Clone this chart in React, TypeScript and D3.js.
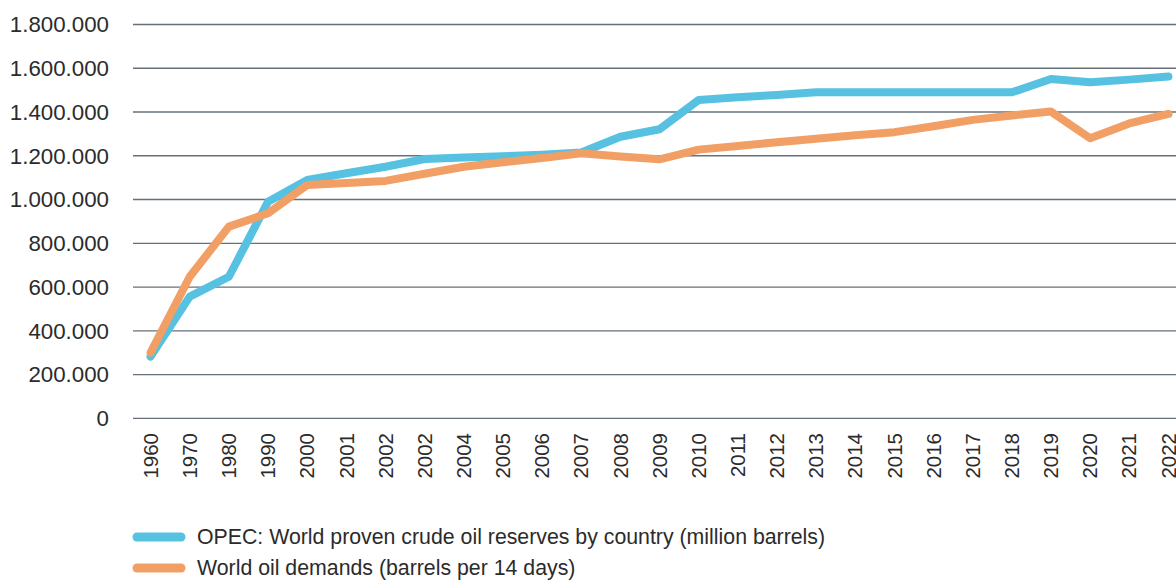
import React from 'react';
import * as d3 from 'd3';

// x categories (the source repeats "2002" on purpose)
const years = ['1960', '1970', '1980', '1990', '2000', '2001', '2002', '2002', '2004', '2005', '2006', '2007', '2008', '2009', '2010', '2011', '2012', '2013', '2014', '2015', '2016', '2017', '2018', '2019', '2020', '2021', '2022'];

// OPEC: World proven crude oil reserves by country (million barrels)
const opecReserves = [282000, 556000, 647000, 990000, 1089000, 1120000, 1150000, 1185000, 1192000, 1198000, 1205000, 1215000, 1287000, 1321000, 1455000, 1467000, 1478000, 1490000, 1490000, 1490000, 1490000, 1490000, 1490000, 1551000, 1536000, 1548000, 1562000];

// World oil demands (barrels per 14 days)
const oilDemands = [300000, 647000, 876000, 937000, 1066000, 1075000, 1085000, 1118000, 1150000, 1170000, 1190000, 1211000, 1197000, 1184000, 1228000, 1245000, 1262000, 1278000, 1294000, 1308000, 1335000, 1364000, 1384000, 1402000, 1280000, 1348000, 1391000];

const yTicks = [0, 200000, 400000, 600000, 800000, 1000000, 1200000, 1400000, 1600000, 1800000];

const series = [
  { name: 'OPEC: World proven crude oil reserves by country (million barrels)', values: opecReserves, color: '#56C1E0' },
  { name: 'World oil demands (barrels per 14 days)', values: oilDemands, color: '#F19F64' },
];

const W = 1176;
const H = 581;
const FONT = '"Liberation Sans", Arial, Helvetica, sans-serif';

export default function App() {
  const x = d3.scalePoint<number>()
    .domain(d3.range(years.length))
    .range([131, 1188])
    .padding(0.5);
  const y = d3.scaleLinear().domain([0, 1800000]).range([418.3, 24.5]);
  const fmt = (v: number) => d3.format(',')(v).replace(/,/g, '.');

  const line = d3.line<number>()
    .x((_, i) => x(i) as number)
    .y(d => y(d));

  return (
    <svg width={W} height={H} style={{ position: 'absolute', left: 0, top: 0 }} fontFamily={FONT}>
      {yTicks.map(t => (
        <g key={t}>
          <line x1={133} x2={W} y1={y(t)} y2={y(t)} stroke="#66707b" strokeWidth={1.3} />
          <text x={109} y={y(t)} dy="0.35em" textAnchor="end" fontSize={22.3} fill="#2b2b2b">{fmt(t)}</text>
        </g>
      ))}
      {years.map((yr, i) => (
        <text key={i} transform={`translate(${x(i)},433) rotate(-90)`} dy="0.35em" textAnchor="end" fontSize={20.5} fill="#2b2b2b">{yr}</text>
      ))}
      {series.map(s => (
        <path key={s.name} d={line(s.values) || ''} fill="none" stroke={s.color} strokeWidth={8} strokeLinejoin="round" strokeLinecap="round" />
      ))}
      {series.map((s, i) => (
        <g key={s.name} transform={`translate(0,${537 + i * 31})`}>
          <line x1={137} x2={181} y1={0} y2={0} stroke={s.color} strokeWidth={9} strokeLinecap="round" />
          <text x={197} y={0} dy="0.35em" fontSize={21.3} fill="#2b2b2b">{s.name}</text>
        </g>
      ))}
    </svg>
  );
}
